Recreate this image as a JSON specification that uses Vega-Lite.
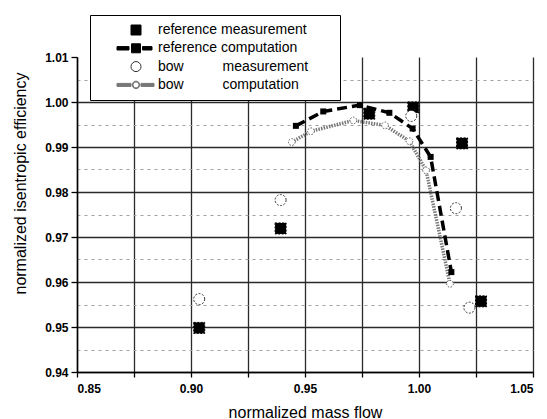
{
  "$schema": "https://vega.github.io/schema/vega-lite/v6.json",
  "autosize": {"type": "none"},
  "width": 456,
  "height": 315,
  "padding": {"left": 77, "top": 57, "right": 14, "bottom": 47},
  "datasets": {
    "measure": [
      {"series": "reference measurement", "flow": 0.9036, "eff": 0.9498},
      {"series": "reference measurement", "flow": 0.9393, "eff": 0.9719},
      {"series": "reference measurement", "flow": 0.9782, "eff": 0.9974},
      {"series": "reference measurement", "flow": 0.9975, "eff": 0.9988},
      {"series": "reference measurement", "flow": 1.0189, "eff": 0.9908},
      {"series": "reference measurement", "flow": 1.0272, "eff": 0.9557},
      {"series": "bow measurement", "flow": 0.9036, "eff": 0.9562},
      {"series": "bow measurement", "flow": 0.9393, "eff": 0.9782},
      {"series": "bow measurement", "flow": 0.9966, "eff": 0.9969},
      {"series": "bow measurement", "flow": 1.0162, "eff": 0.9764},
      {"series": "bow measurement", "flow": 1.0221, "eff": 0.9543}
    ],
    "refcomp": [
      {"flow": 0.946, "eff": 0.9947},
      {"flow": 0.958, "eff": 0.9979},
      {"flow": 0.9741, "eff": 0.9993},
      {"flow": 0.987, "eff": 0.9976},
      {"flow": 0.9972, "eff": 0.9941},
      {"flow": 1.0051, "eff": 0.9878},
      {"flow": 1.0142, "eff": 0.9622}
    ],
    "bowcomp": [
      {"flow": 0.9442, "eff": 0.9911},
      {"flow": 0.9526, "eff": 0.9935},
      {"flow": 0.9712, "eff": 0.9959},
      {"flow": 0.9851, "eff": 0.9948},
      {"flow": 0.9958, "eff": 0.9913},
      {"flow": 1.0031, "eff": 0.9848},
      {"flow": 1.0136, "eff": 0.9596}
    ]
  },
  "encoding": {
    "x": {
      "field": "flow", "type": "quantitative",
      "scale": {"domain": [0.85, 1.05], "nice": false, "zero": false},
      "axis": {
        "title": "normalized mass flow",
        "values": [0.85, 0.875, 0.9, 0.925, 0.95, 0.975, 1.0, 1.025, 1.05],
        "labelExpr": "round(datum.value*1000)%50==0 ? format(datum.value,'.2f') : ''",
        "grid": true, "gridColor": "#2a2a2a", "gridWidth": 1.3,
        "tickSize": 5, "labelPadding": 6,
        "titleX": 228, "titleY": 40, "titleBaseline": "middle", "titleAlign": "center"
      }
    },
    "y": {
      "field": "eff", "type": "quantitative",
      "scale": {"domain": [0.94, 1.01], "nice": false, "zero": false},
      "axis": {
        "title": "normalized isentropic efficiency",
        "values": [0.94, 0.945, 0.95, 0.955, 0.96, 0.965, 0.97, 0.975, 0.98, 0.985, 0.99, 0.995, 1.0, 1.005, 1.01],
        "labelExpr": "round(datum.value*1000)%10==0 ? format(datum.value,'.2f') : ''",
        "grid": true,
        "gridColor": {"condition": {"test": "round(datum.value*1000)%10!=0", "value": "#a0a0a0"}, "value": "#2a2a2a"},
        "gridDash": {"condition": {"test": "round(datum.value*1000)%10!=0", "value": [3, 4]}, "value": []},
        "gridWidth": {"condition": {"test": "round(datum.value*1000)%10!=0", "value": 1}, "value": 1.4},
        "gridOpacity": {"condition": {"test": "datum.value > 1.006", "value": 0}, "value": 1},
        "tickOpacity": {"condition": {"test": "round(datum.value*1000)%10!=0", "value": 0}, "value": 1},
        "tickSize": 6, "labelPadding": 3,
        "titleX": -57, "titleY": 126, "titleBaseline": "middle", "titleAlign": "center", "titleAngle": -90
      }
    }
  },
  "layer": [
    {
      "data": {"name": "bowcomp"},
      "mark": {"type": "line", "color": "#777777", "strokeWidth": 3.5, "strokeDash": [1.5, 1.2]}
    },
    {
      "data": {"name": "bowcomp"},
      "mark": {"type": "point", "shape": "circle", "size": 45, "filled": true, "fill": "white", "stroke": "#555555", "strokeWidth": 1, "strokeDash": [1.5, 1.5], "opacity": 1}
    },
    {
      "data": {"name": "refcomp"},
      "mark": {"type": "line", "color": "black", "strokeWidth": 3.5, "strokeDash": [10, 5]}
    },
    {
      "data": {"name": "refcomp"},
      "mark": {"type": "point", "shape": "square", "size": 36, "filled": true, "color": "black", "opacity": 1}
    },
    {
      "data": {"name": "measure"},
      "mark": {"type": "point", "filled": true, "size": 121, "strokeWidth": 1, "strokeDash": [2, 1.5], "opacity": 1},
      "encoding": {
        "shape": {
          "field": "series", "type": "nominal",
          "scale": {
            "domain": ["reference measurement", "reference computation", "bow measurement", "bow computation"],
            "range": [
              "square",
              "M-3.8,-0.34H-1.4V0.34H-3.8Z M-0.9,-0.9H0.9V0.9H-0.9Z M1.3,-0.34H3.2V0.34H1.3Z",
              "circle",
              "M-3.8,-0.3H-1V0.3H-3.8Z M1,-0.3H3.6V0.3H1Z M0.75,0A0.75,0.75,0,1,1,-0.75,0A0.75,0.75,0,1,1,0.75,0Z M0.6,0A0.6,0.6,0,1,0,-0.6,0A0.6,0.6,0,1,0,0.6,0Z"
            ]
          },
          "legend": {
            "orient": "none", "legendX": 13, "legendY": -42,
            "title": ".", "titleOrient": "right", "titleColor": "white", "titlePadding": 20, "titleFontSize": 14,
            "strokeColor": "black", "fillColor": "white", "padding": 8,
            "symbolSize": 100, "symbolOffset": 31, "labelOffset": 15,
            "symbolStrokeWidth": 1, "symbolOpacity": 1,
            "labelFont": "Liberation Sans", "labelFontSize": 14, "labelColor": "black", "labelLimit": 400,
            "rowPadding": 4.3,
            "labelExpr": "datum.label == 'bow measurement' ? 'bow\u00a0\u00a0\u00a0\u00a0\u00a0\u00a0\u00a0\u00a0\u00a0\u00a0measurement' : datum.label == 'bow computation' ? 'bow\u00a0\u00a0\u00a0\u00a0\u00a0\u00a0\u00a0\u00a0\u00a0\u00a0computation' : datum.label",
            "encode": {"legend": {"update": {"strokeWidth": {"value": 1.5}}}}
          }
        },
        "fill": {
          "field": "series", "type": "nominal",
          "scale": {
            "domain": ["reference measurement", "reference computation", "bow measurement", "bow computation"],
            "range": ["black", "black", "white", "#777777"]
          },
          "legend": null
        },
        "stroke": {
          "field": "series", "type": "nominal",
          "scale": {
            "domain": ["reference measurement", "reference computation", "bow measurement", "bow computation"],
            "range": ["black", "black", "#333333", "#777777"]
          },
          "legend": null
        }
      }
    }
  ],
  "config": {
    "view": {"stroke": null},
    "font": "Liberation Sans",
    "axis": {
      "domainColor": "black", "domainWidth": 1.5,
      "tickColor": "black", "tickWidth": 1.3,
      "labelFont": "Liberation Sans", "labelFontSize": 12, "labelFontWeight": "bold", "labelColor": "black",
      "titleFont": "Liberation Sans", "titleFontSize": 16, "titleFontWeight": "normal", "titleColor": "black"
    }
  }
}
